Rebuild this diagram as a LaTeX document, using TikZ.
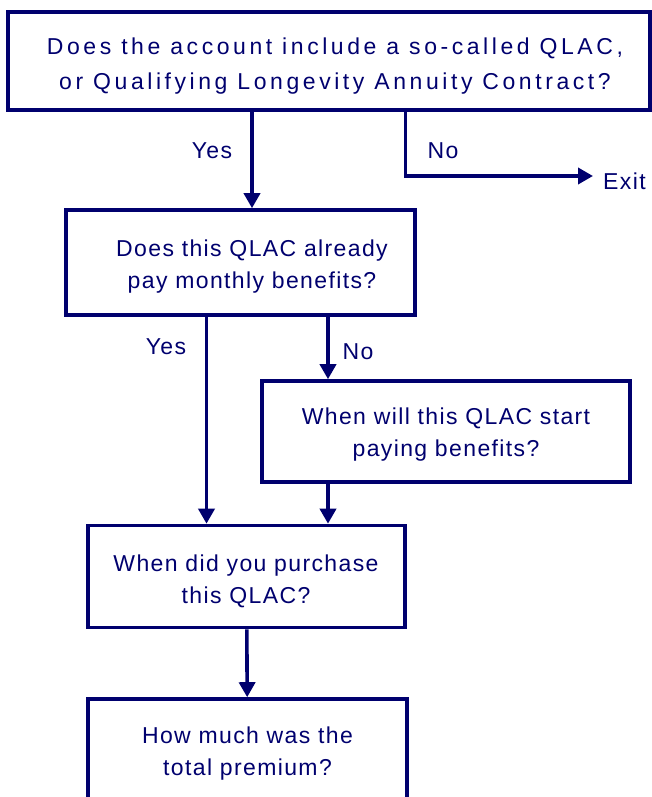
\documentclass[tikz,border=0pt]{standalone}
\usepackage{fontspec}
\setmainfont{Liberation Sans}[LetterSpace=6]
\newfontfamily\qwide{Liberation Sans}[LetterSpace=15.5]
\usetikzlibrary{arrows.meta}
\definecolor{qnavy}{RGB}{0,0,110}
\tikzset{
  qbox/.style={draw=qnavy, line width=3.6pt, rectangle, inner sep=0pt},
  qtext/.style={text=qnavy, font=\fontsize{23}{32}\selectfont, align=center, inner sep=0pt},
  qarr/.style={draw=qnavy, line width=3.6pt, -{Triangle[length=15pt,width=16pt]}}
}
\begin{document}
\begin{tikzpicture}[x=1pt, y=-1pt]
		\useasboundingbox (0, 0) rectangle (652, 797);
		% boxes
		\node[qbox, minimum width=642, minimum height=98](incl) at (329, 61){};
		\node[qbox, minimum width=349, minimum height=105](pays) at (240.5, 262.5){};
		\node[qbox, minimum width=368, minimum height=101](start) at (446, 431.5){};
		\node[qbox, minimum width=317, minimum height=102](buy) at (246.5, 576.5){};
		\node[qbox, minimum width=319, minimum height=104](prem) at (247.5, 751){};
		% texts
		\node[qtext, font=\fontsize{23}{35}\selectfont\qwide](incl-t) at (335, 66.5){Does the account include a so-called QLAC,\\or Qualifying Longevity Annuity Contract?};
		\node[qtext](pays-t) at (252, 267){Does this QLAC already\\pay monthly benefits?};
		\node[qtext](start-t) at (446, 435){When will this QLAC start\\paying benefits?};
		\node[qtext](buy-t) at (246, 581.5){When did you purchase\\this QLAC?};
		\node[qtext](prem-t) at (247.5, 754){How much was the\\total premium?};
		% connectors
		\coordinate(yes1) at (252, 0);
		\coordinate(no1) at (405.5, 0);
		\coordinate(exit) at (593, 176);
		\coordinate(yes2) at (206.5, 0);
		\coordinate(no2) at (328, 0);
		\draw[qarr](incl.south -| yes1)--(pays.north -| yes1);
		\draw[qarr](incl.south -| no1)--(no1 |- exit)--(exit);
		\draw[qarr](pays.south -| yes2)--(buy.north -| yes2);
		\draw[qarr](pays.south -| no2)--(start.north -| no2);
		\draw[qarr](start.south -| no2)--(buy.north -| no2);
		\draw[qarr](buy)--(prem);
		% labels
		\node[qtext](yes1-l) at (212, 151){Yes};
		\node[qtext](no1-l) at (443, 151){No};
		\node[qtext, anchor=west](exit-l) at (603, 181){Exit};
		\node[qtext](yes2-l) at (166, 347){Yes};
		\node[qtext](no2-l) at (358, 352){No};
	\end{tikzpicture}
\end{document}
